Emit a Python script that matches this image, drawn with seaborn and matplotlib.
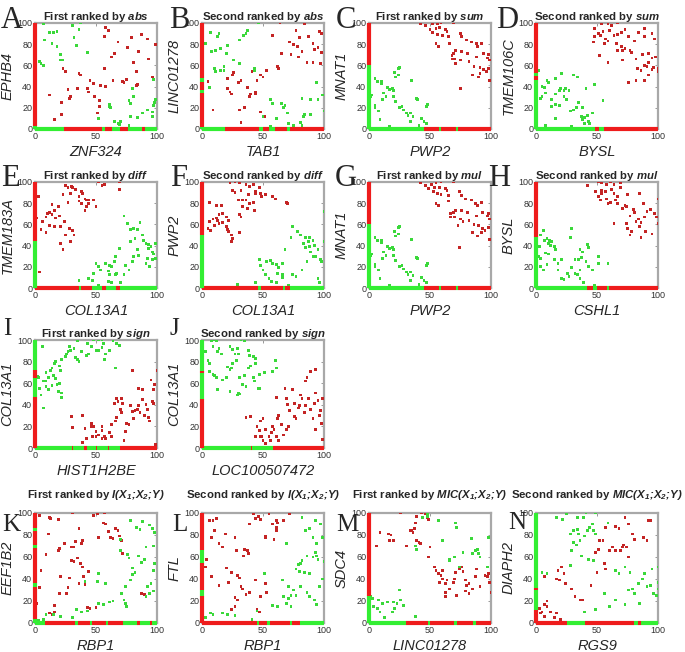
import matplotlib
matplotlib.use('Agg')
import matplotlib.pyplot as plt
import seaborn as sns
import pandas as pd

#%% data (expression ranks, 0-100)
# points off the axes: (x, y)
A_red = [(58,96),(60,93),(57,87),(87,89),(79,86),(92,85),(99,80),(68,82),(76,77),(85,73),(65,71),(63,68),
         (93,66),(81,63),(57,57),(23,57),(25,54),(36,52),(37,51),(83,54),(72,45),(73,44),(64,46),(83,41),
         (84,42),(45,46),(48,43),(54,41),(58,40),(43,38),(44,35),(96,49),(12,32),(27,37),(29,31),(28,29),
         (35,38),(22,25),(49,31),(53,21),(53,27),(51,15),(22,14),(16,9),(75,47)]
A_green = [(7,99),(37,100),(31,98),(36,94),(12,91),(15,91),(18,92),(8,84),(14,81),(18,78),(32,86),(34,79),
           (43,72),(21,70),(21,65),(23,65),(5,62),(4,64),(7,60),(97,47),(80,38),(81,31),(77,27),(78,24),
           (99,28),(98,25),(97,22),(96,16),(96,12),(92,18),(88,15),(84,11),(61,23),(61,21),(62,20),(52,10),
           (78,12),(65,7),(68,5),(70,7),(69,4),(77,3),(87,1),(88,1)]
A_xrun = [(0,24,'g'),(24,55,'r'),(55,57,'g'),(57,63,'r'),(63,70,'g'),(70,76,'r'),(76,88,'g'),(88,90,'r'),(90,100,'g')]
A_yrun = [(0,3,'g'),(3,100,'r')]

B_red = [(64,100),(84,99),(77,93),(98,90),(96,92),(58,88),(87,87),(72,82),(80,86),(75,80),(78,78),(91,81),
         (95,77),(92,75),(98,72),(82,73),(79,68),(73,70),(65,71),(86,63),(91,63),(97,62),(62,59),(63,57),
         (53,55),(41,54),(26,53),(25,51),(21,48),(32,46),(30,44),(48,51),(50,49),(45,46),(37,39),(40,33),
         (39,31),(44,35),(21,38),(23,35),(24,33),(44,33),(35,20),(31,18),(9,18),(48,16),(51,12),(32,6),(5,45)]
B_green = [(7,91),(3,81),(14,90),(13,87),(31,84),(37,93),(36,90),(34,88),(46,100),(8,73),(11,74),(15,76),
           (20,71),(21,79),(26,65),(31,62),(18,59),(15,55),(10,57),(11,54),(18,55),(6,39),(43,57),(43,55),
           (56,28),(58,24),(65,24),(68,22),(67,20),(70,15),(50,12),(61,10),(71,5),(75,3),(81,6),(83,12),
           (84,14),(89,14),(82,29),(89,28),(95,28),(94,44),(99,32),(100,17),(56,2),(82,3),(89,1)]
B_xrun = [(0,19,'g'),(19,47,'r'),(47,50,'g'),(50,55,'r'),(55,60,'g'),(60,70,'r'),(70,72,'g'),(72,100,'r')]
B_yrun = [(0,2,'g'),(2,34,'r'),(34,37,'g'),(37,44,'r'),(44,48,'g'),(48,100,'r')]

C_red = [(42,99),(46,98),(52,99),(56,99),(59,100),(69,100),(50,94),(55,95),(58,96),(63,94),(64,92),(52,91),
         (56,89),(60,88),(65,87),(55,81),(57,78),(66,81),(75,90),(76,87),(80,84),(84,82),(88,81),(89,78),
         (92,81),(71,74),(76,73),(81,71),(69,71),(68,69),(68,66),(70,66),(75,65),(82,64),(88,68),(94,71),
         (98,70),(97,67),(99,65),(71,62),(86,59),(91,58),(94,56),(96,54),(91,52),(98,57),(90,49),(99,46),
         (75,38),(85,51)]
C_green = [(5,48),(7,45),(10,43),(10,45),(15,39),(17,37),(19,38),(20,36),(24,57),(25,58),(24,51),(22,49),
           (21,53),(12,34),(14,31),(11,28),(5,22),(5,20),(8,17),(9,9),(1,31),(2,32),(20,31),(22,26),(25,20),
           (27,21),(28,18),(31,15),(32,13),(34,15),(36,12),(34,7),(39,29),(40,28),(35,46),(47,21),(48,23),
           (43,10),(45,7),(47,5),(41,3),(17,2)]
C_xrun = [(0,45,'g'),(45,57,'r'),(57,59,'g'),(59,71,'r'),(71,73,'g'),(73,100,'r')]
C_yrun = [(0,60,'g'),(60,100,'r')]

D_red = [(54,99),(59,99),(62,98),(67,100),(73,94),(48,95),(51,90),(55,92),(60,93),(48,87),(53,88),(57,85),
         (59,83),(64,88),(67,89),(70,91),(76,87),(47,82),(56,81),(66,81),(70,78),(71,74),(73,76),(77,74),
         (81,83),(84,91),(89,95),(89,87),(95,90),(97,85),(78,72),(82,66),(87,70),(92,71),(95,67),(92,63),
         (98,68),(52,69),(59,63),(67,74),(71,65),(83,57),(86,55),(89,60),(91,59),(96,58),(100,57),(100,54),
         (92,51),(95,56),(82,46),(89,46),(76,44)]
D_green = [(2,55),(9,46),(10,44),(5,40),(7,39),(5,31),(4,29),(8,34),(16,48),(21,52),(31,51),(34,49),(20,38),
           (19,36),(23,36),(24,38),(27,36),(16,33),(23,31),(25,28),(13,28),(13,21),(16,23),(19,22),(41,38),
           (48,42),(35,25),(33,20),(31,18),(28,17),(38,20),(37,12),(40,11),(42,13),(38,9),(43,7),(46,15),
           (16,10),(8,3),(29,2),(40,5),(44,5),(55,27)]
D_xrun = [(0,48,'g'),(48,52,'r'),(52,56,'g'),(56,100,'r')]
D_yrun = [(0,46,'g'),(46,50,'r'),(50,53,'g'),(53,100,'r')]

E_red = [(3,86),(52,100),(55,97),(57,98),(69,100),(69,93),(25,97),(27,95),(30,96),(31,95),(33,93),(23,88),
         (29,89),(38,91),(39,89),(36,86),(36,82),(38,80),(41,84),(42,83),(44,83),(44,80),(42,77),(41,73),
         (48,83),(50,77),(27,81),(14,79),(16,73),(12,71),(10,70),(9,67),(6,63),(14,69),(17,66),(20,68),
         (19,77),(24,63),(21,58),(12,59),(16,58),(5,55),(9,52),(28,56),(31,54),(32,50),(25,50),(21,42),
         (23,36),(29,44),(4,15),(1,66)]
E_green = [(73,68),(76,61),(78,55),(81,56),(84,55),(82,47),(78,44),(86,62),(88,50),(89,45),(91,42),(93,41),
           (93,37),(95,39),(96,34),(97,32),(99,28),(96,27),(99,42),(92,28),(91,23),(94,20),(85,31),(84,36),
           (81,30),(80,25),(77,17),(74,21),(73,13),(69,37),(66,30),(65,25),(58,23),(61,21),(63,20),(60,16),
           (50,23),(52,20),(54,17),(61,13),(66,13),(67,14),(48,14),(44,9),(47,7),(36,7),(60,6),(63,5),(70,5),
           (52,2)]
E_xrun = [(0,36,'r'),(36,38,'g'),(38,47,'r'),(47,55,'g'),(55,58,'r'),(58,66,'g'),(66,70,'r'),(70,100,'g')]
E_yrun = [(0,44,'g'),(44,100,'r')]

F_red = [(23,99),(27,100),(31,99),(36,98),(39,96),(42,98),(47,95),(25,92),(27,90),(32,92),(30,83),(33,83),
         (38,88),(44,91),(44,89),(48,89),(49,86),(52,88),(58,86),(60,84),(36,83),(39,80),(42,81),(33,77),
         (37,75),(43,73),(31,69),(32,67),(69,81),(70,80),(6,81),(12,78),(16,78),(14,69),(17,70),(9,65),
         (12,66),(13,64),(6,63),(5,56),(7,54),(10,59),(14,61),(17,62),(20,67),(22,64),(20,58),(22,53),
         (24,50),(25,47),(24,44),(21,55),(31,52)]
F_green = [(100,72),(74,58),(73,48),(68,36),(78,53),(81,50),(85,48),(88,48),(91,45),(87,44),(83,42),(85,38),
           (88,39),(92,40),(95,36),(89,34),(91,30),(93,30),(97,27),(98,25),(86,25),(82,17),(74,13),(77,11),
           (95,9),(96,5),(47,27),(48,21),(50,17),(53,25),(56,26),(58,23),(61,22),(63,19),(66,23),(62,14),
           (66,13),(66,10),(52,13),(55,9),(57,6),(61,5),(44,5),(29,3),(71,2),(100,44)]
F_xrun = [(0,46,'r'),(46,48,'g'),(48,66,'r'),(66,68,'g'),(68,72,'r'),(72,100,'g')]
F_yrun = [(0,50,'g'),(50,100,'r')]

G_red = [(42,99),(46,97),(51,98),(55,99),(59,100),(69,100),(49,94),(54,95),(58,95),(63,94),(64,92),(53,91),
         (56,89),(59,88),(65,87),(55,80),(57,78),(65,82),(74,91),(76,87),(79,84),(84,83),(87,80),(89,78),
         (92,81),(71,73),(76,73),(81,71),(69,71),(67,70),(67,67),(70,67),(75,65),(82,64),(88,68),(93,71),
         (98,70),(97,68),(99,65),(86,60),(90,59),(93,56),(95,54),(92,52),(98,57),(89,49),(99,46),(74,38),
         (85,52),(73,59),(77,63)]
G_green = [(5,48),(7,45),(10,43),(10,45),(15,39),(17,37),(19,38),(20,36),(24,57),(25,58),(24,51),(22,49),
           (21,53),(12,34),(14,31),(11,28),(5,22),(5,20),(8,17),(9,9),(1,31),(2,32),(20,31),(22,26),(25,20),
           (27,21),(28,18),(31,15),(32,13),(34,15),(36,12),(34,7),(39,29),(40,28),(35,46),(47,21),(48,23),
           (43,10),(45,7),(47,5),(41,3),(17,2)]
G_xrun = C_xrun
G_yrun = C_yrun

H_red = [(42,97),(51,100),(54,99),(58,98),(61,100),(64,98),(69,99),(49,91),(54,89),(54,92),(57,91),(51,86),
         (53,83),(58,84),(62,93),(64,89),(67,86),(69,95),(61,81),(65,83),(67,80),(59,80),(71,75),(73,78),
         (74,77),(75,88),(80,74),(81,71),(77,68),(85,89),(88,80),(82,63),(84,65),(86,62),(89,67),(91,72),
         (94,74),(97,70),(99,67),(100,84),(100,61),(75,56),(77,50),(78,53),(85,58),(86,48),(90,53),(95,51),
         (74,61),(64,61)]
H_green = [(6,54),(4,50),(3,39),(2,30),(4,28),(7,45),(9,47),(11,45),(13,44),(10,42),(12,40),(15,39),(16,36),
           (8,33),(10,32),(6,17),(4,20),(9,22),(15,27),(18,23),(21,27),(21,9),(23,8),(29,56),(28,48),(36,36),
           (38,34),(42,41),(43,38),(32,27),(35,27),(37,29),(41,25),(29,19),(32,14),(34,13),(36,17),(43,20),
           (46,17),(51,30),(51,23),(36,9),(39,5),(48,2),(59,23),(18,17),(26,14),(27,11)]
H_xrun = [(0,42,'g'),(42,47,'r'),(47,50,'g'),(50,58,'r'),(58,60,'g'),(60,100,'r')]
H_yrun = [(0,48,'g'),(48,100,'r')]

I_green = [(6,94),(2,66),(3,65),(4,55),(5,49),(7,37),(7,62),(9,62),(11,65),(9,70),(13,72),(11,54),(9,57),
           (14,74),(16,78),(17,80),(15,67),(17,64),(14,58),(18,59),(20,76),(21,72),(20,60),(22,51),(22,47),
           (19,52),(25,85),(26,87),(27,89),(28,94),(29,90),(32,92),(33,84),(35,82),(36,80),(35,100),(35,99),
           (43,97),(46,94),(42,86),(44,87),(38,89),(48,100),(50,90),(52,100),(55,100),(56,97),(52,90),(55,93),
           (58,87),(61,90),(64,99),(67,97),(69,95),(66,74),(57,82),(22,82)]
I_red = [(30,29),(31,19),(39,30),(41,18),(42,9),(39,5),(46,23),(46,20),(48,20),(50,15),(47,11),(50,11),
         (52,12),(55,9),(57,11),(58,9),(55,20),(55,16),(61,14),(63,11),(63,22),(66,25),(67,28),(65,41),
         (68,43),(70,36),(71,46),(72,41),(71,33),(75,23),(77,22),(74,15),(73,7),(78,39),(80,34),(81,27),
         (80,72),(82,35),(84,36),(85,39),(86,33),(88,54),(88,45),(91,40),(90,30),(92,36),(93,28),(95,63),
         (96,43),(97,41),(94,25),(97,54),(98,59),(100,72),(99,3),(85,55),(67,46)]
I_xrun = [(0,30,'g'),(30,31,'r'),(31,40,'g'),(40,43,'r'),(43,50,'g'),(50,51,'r'),(51,60,'g'),(60,61,'r'),
          (61,70,'g'),(70,100,'r')]
I_yrun = [(0,47,'r'),(47,65,'g'),(65,72,'r'),(72,100,'g')]

J_green = [(3,89),(5,81),(6,78),(6,71),(9,94),(8,99),(10,100),(12,99),(13,89),(14,92),(16,87),(10,67),(12,65),
           (9,68),(13,54),(17,63),(20,65),(21,75),(23,73),(24,74),(25,78),(23,94),(25,91),(29,92),(30,87),
           (28,81),(32,100),(35,99),(23,52),(33,59),(36,57),(27,87),(31,65),(38,90),(39,86),(42,85),(44,83),
           (38,74),(40,76),(44,78),(35,67),(42,65),(43,62),(29,49),(30,51),(31,50),(46,55),(47,55),(47,68),
           (51,70),(58,71),(61,74),(60,81)]
J_red = [(36,28),(40,29),(45,20),(47,16),(48,25),(50,27),(48,11),(50,7),(49,11),(44,11),(52,17),(52,4),
         (55,11),(56,7),(57,14),(59,17),(58,20),(62,27),(63,30),(65,22),(61,11),(63,7),(61,47),(69,46),
         (70,40),(72,35),(68,55),(74,54),(76,41),(76,29),(77,27),(79,37),(80,39),(81,49),(82,46),(84,33),
         (85,39),(87,46),(89,36),(91,27),(92,41),(93,51),(95,44),(96,30),(97,35),(89,71),(93,73),(86,65),
         (85,62),(99,46),(98,23),(99,8),(93,17),(71,20),(69,17),(67,12)]
J_xrun = [(0,40,'g'),(40,41,'r'),(41,58,'g'),(58,100,'r')]
J_yrun = [(0,45,'r'),(45,69,'g'),(69,71,'r'),(71,100,'g')]

K_red = [(4,98),(12,96),(13,95),(19,94),(31,100),(48,98),(51,99),(57,100),(56,91),(58,90),(52,78),(36,86),
         (39,75),(38,72),(33,74),(32,69),(30,69),(24,72),(20,68),(19,66),(11,81),(9,62),(5,48),(4,32),(1,18),
         (30,57),(32,56),(35,59),(37,54),(39,51),(36,36),(40,42),(41,35),(28,41),(27,32),(26,27),(21,42),
         (20,27),(16,16),(12,9),(14,8),(16,10),(60,83),(62,78),(64,77),(66,86),(68,84),(69,79),(71,75),
         (72,63),(43,14),(45,13),(50,14),(87,27),(90,26),(44,47)]
K_green = [(78,93),(83,87),(86,85),(88,92),(94,89),(96,86),(98,82),(97,70),(70,76),(70,66),(76,62),(77,59),
           (85,61),(87,55),(90,58),(91,69),(80,50),(82,46),(80,44),(78,39),(74,33),(71,27),(73,21),(74,18),
           (75,15),(58,36),(51,38),(52,45),(64,20),(61,19),(56,17),(52,18),(43,11),(41,38),(95,36),(92,33),
           (94,27),(97,29),(97,48),(98,54),(91,24),(31,5),(21,6),(15,8),(9,8),(7,3),(3,2),(38,10),(34,12)]
K_xrun = [(0,8,'g'),(8,33,'r'),(33,35,'g'),(35,45,'r'),(45,47,'g'),(47,58,'r'),(58,60,'g'),(60,72,'r'),
          (72,84,'g'),(84,86,'r'),(86,94,'g'),(94,96,'r'),(96,100,'g')]
K_yrun = [(0,4,'g'),(4,33,'r'),(33,36,'g'),(36,68,'r'),(68,71,'g'),(71,84,'r'),(84,86,'g'),(86,100,'r')]

L_red = [(6,93),(9,93),(12,95),(42,99),(46,97),(48,94),(44,95),(55,99),(61,93),(62,91),(58,90),(61,87),
         (61,84),(52,79),(52,78),(67,93),(72,99),(8,78),(10,84),(19,81),(14,72),(17,69),(27,78),(28,66),
         (35,67),(37,66),(38,63),(34,61),(39,90),(4,58),(3,51),(8,42),(20,50),(24,46),(22,37),(14,34),(29,43),
         (31,41),(32,33),(33,31),(27,23),(36,26),(39,28),(29,21),(27,15),(44,39),(48,24),(52,36),(53,28),
         (45,12),(47,10),(24,12),(59,76)]
L_green = [(82,96),(85,84),(88,86),(93,93),(97,90),(99,78),(91,78),(94,72),(93,64),(91,60),(94,61),(95,58),
           (100,56),(86,61),(82,57),(81,54),(79,53),(77,49),(80,47),(84,46),(88,45),(69,72),(71,33),(66,39),
           (75,30),(67,24),(71,22),(73,25),(69,18),(73,15),(77,25),(81,33),(86,28),(88,24),(92,21),(94,17),
           (96,33),(99,40),(58,16),(62,15),(51,45),(45,11),(41,3),(9,8),(7,9),(3,5),(17,9),(21,8),(27,7)]
L_xrun = [(0,45,'r'),(45,47,'g'),(47,53,'r'),(53,56,'g'),(56,72,'r'),(72,74,'g'),(74,80,'r'),(80,100,'g')]
L_yrun = [(0,25,'r'),(25,30,'g'),(30,55,'r'),(55,66,'g'),(66,100,'r')]

M_red = [(26,100),(39,97),(43,100),(46,99),(48,96),(49,94),(38,91),(34,84),(35,84),(37,86),(36,82),(31,70),
         (39,75),(41,73),(42,72),(16,81),(18,80),(20,75),(20,75),(17,75),(9,82),(6,70),(49,60),(50,69),
         (55,48),(57,45),(54,51),(59,43),(60,48),(58,37),(60,40),(63,36),(63,28),(63,24),(66,31),(64,39),
         (69,37),(70,40),(71,46),(74,49),(76,51),(77,47),(79,39),(80,34),(82,36),(79,29),(82,27),(85,31),
         (87,42),(88,49),(91,33),(95,43),(97,42),(98,45),(100,28),(99,37),(72,25)]
M_green = [(48,99),(48,97),(57,93),(44,96),(71,91),(72,87),(60,75),(39,67),(38,70),(84,77),(87,66),(89,67),
           (85,63),(77,64),(66,57),(66,58),(70,60),(74,51),(98,78),(97,51),(91,60),(90,63),(1,24),(3,22),
           (4,15),(8,21),(7,13),(9,10),(11,18),(15,19),(20,19),(21,13),(23,18),(26,21),(25,30),(28,16),
           (19,10),(13,5),(38,6)]
M_xrun = [(0,30,'g'),(30,48,'r'),(48,50,'g'),(50,70,'r'),(70,72,'g'),(72,85,'r'),(85,88,'g'),(88,100,'r')]
M_yrun = [(0,25,'g'),(25,100,'r')]

N_red = [(3,13),(4,9),(5,10),(7,6),(9,15),(12,10),(15,5),(17,9),(20,3),(9,20),(7,17),(7,42),(17,40),(19,39),
         (18,48),(21,51),(23,45),(24,36),(29,31),(32,24),(36,21),(38,21),(45,34),(49,64),(51,67),(52,75),
         (55,75),(57,87),(65,88),(68,86),(60,66),(63,69),(65,66),(69,66),(71,69),(72,71),(74,69),(76,60),
         (56,54),(57,49),(50,46),(73,96),(79,81),(81,76),(88,78),(91,75),(92,93),(94,93),(76,90)]
N_green = [(17,96),(22,94),(25,99),(28,81),(31,84),(34,85),(35,81),(36,75),(40,79),(42,84),(44,87),(46,90),
           (41,100),(47,84),(49,81),(31,73),(33,71),(29,66),(37,61),(43,58),(47,57),(34,96),(39,96),(49,100),
           (59,91),(5,46),(9,45),(28,52),(40,10),(49,12),(56,27),(60,15),(65,21),(73,17),(76,30),(79,31),
           (81,27),(85,18),(84,36),(87,40),(91,33),(94,34),(95,49),(96,27),(99,25),(100,31),(100,37),(100,51),
           (89,45),(65,48),(68,45),(73,51),(77,46)]
N_xrun = [(0,25,'r'),(25,40,'g'),(40,80,'r'),(80,84,'g'),(84,86,'r'),(86,100,'g')]
N_yrun = [(0,12,'r'),(12,30,'g'),(30,32,'r'),(32,100,'g')]

# letter, rank, measure, x gene, y gene
panels = [
    ('A', 'First', 'abs', 'ZNF324', 'EPHB4', A_red, A_green, A_xrun, A_yrun),
    ('B', 'Second', 'abs', 'TAB1', 'LINC01278', B_red, B_green, B_xrun, B_yrun),
    ('C', 'First', 'sum', 'PWP2', 'MNAT1', C_red, C_green, C_xrun, C_yrun),
    ('D', 'Second', 'sum', 'BYSL', 'TMEM106C', D_red, D_green, D_xrun, D_yrun),
    ('E', 'First', 'diff', 'COL13A1', 'TMEM183A', E_red, E_green, E_xrun, E_yrun),
    ('F', 'Second', 'diff', 'COL13A1', 'PWP2', F_red, F_green, F_xrun, F_yrun),
    ('G', 'First', 'mul', 'PWP2', 'MNAT1', G_red, G_green, G_xrun, G_yrun),
    ('H', 'Second', 'mul', 'CSHL1', 'BYSL', H_red, H_green, H_xrun, H_yrun),
    ('I', 'First', 'sign', 'HIST1H2BE', 'COL13A1', I_red, I_green, I_xrun, I_yrun),
    ('J', 'Second', 'sign', 'LOC100507472', 'COL13A1', J_red, J_green, J_xrun, J_yrun),
    ('K', 'First', r'I(X_1;\!X_2;\!Y)', 'RBP1', 'EEF1B2', K_red, K_green, K_xrun, K_yrun),
    ('L', 'Second', r'I(X_1;\!X_2;\!Y)', 'RBP1', 'FTL', L_red, L_green, L_xrun, L_yrun),
    ('M', 'First', r'MIC(X_1;\!X_2;\!Y)', 'LINC01278', 'SDC4', M_red, M_green, M_xrun, M_yrun),
    ('N', 'Second', r'MIC(X_1;\!X_2;\!Y)', 'RGS9', 'DIAPH2', N_red, N_green, N_xrun, N_yrun),
]

#%% style
sns.set_style('white')
plt.rcParams['font.family'] = ['Liberation Sans', 'DejaVu Sans']
plt.rcParams['mathtext.fontset'] = 'custom'
plt.rcParams['mathtext.bfit'] = 'Liberation Sans:bold:italic'
plt.rcParams['mathtext.it'] = 'Liberation Sans:italic'
plt.rcParams['mathtext.rm'] = 'Liberation Sans'

pal = {'r': '#c42424', 'g': '#3ad83a'}
run_pal = {'r': '#ee1c1c', 'g': '#33ee33'}

W, H = 685, 652
fig = plt.figure(figsize=(W / 100, H / 100), dpi=100)

col_left = [35, 202, 369, 536]
row_top = [23, 182, 340, 513]
row_h = [106, 106, 108, 110]
slots = [(0, 0), (0, 1), (0, 2), (0, 3), (1, 0), (1, 1), (1, 2), (1, 3),
         (2, 0), (2, 1), (3, 0), (3, 1), (3, 2), (3, 3)]
# letter position (px from top-left) and size
letter_xy = {'A': (1, 6, 22), 'B': (169, 6, 22), 'C': (336, 6, 22), 'D': (496, 6, 22),
             'E': (1, 164, 22), 'F': (170, 164, 22), 'G': (335, 164, 22), 'H': (488, 164, 22),
             'I': (3, 318, 18), 'J': (170, 318, 18), 'K': (2, 514, 18), 'L': (172, 514, 18),
             'M': (336, 514, 18), 'N': (508, 512, 18)}

#%% draw panels
for (letter, rank, meas, xlab, ylab, red, green, xrun, yrun), (r, c) in zip(panels, slots):
    top, h = row_top[r], row_h[r]
    ax = fig.add_axes([col_left[c] / W, 1 - (top + h) / H, 122 / W, h / H])

    df = pd.DataFrame(red + green, columns=['x', 'y'])
    df['cls'] = ['r'] * len(red) + ['g'] * len(green)
    sns.scatterplot(data=df, x='x', y='y', hue='cls', palette=pal, s=4, marker='s',
                    linewidth=0, legend=False, ax=ax, zorder=4)

    # zero-valued samples sit on the axes
    for s, e, k in xrun:
        ax.hlines(0, s, e, colors=run_pal[k], lw=3, clip_on=False, zorder=5)
    for s, e, k in yrun:
        ax.vlines(0, s, e, colors=run_pal[k], lw=3, clip_on=False, zorder=5)

    ax.set_xlim(0, 100)
    ax.set_ylim(0, 100)
    ax.set_xticks([0, 50, 100])
    ax.set_yticks([0, 20, 40, 60, 80, 100])
    ax.tick_params(direction='in', length=2.5, width=0.6, color='#888888', labelsize=6.5,
                   pad=2, labelcolor='#333333', top=True, right=True)
    for sp in ax.spines.values():
        sp.set_color('#a8a8a8')
        sp.set_linewidth(1.6)
    ax.set_xlabel(xlab, fontsize=10.5, style='italic', labelpad=3)
    ax.set_ylabel(ylab, fontsize=10.5, style='italic', labelpad=2)
    pad = 11 if r == 3 else 2
    ax.set_title(rank + ' ranked by ' + r'$\mathbfit{' + meas + '}$', fontsize=8.2,
                 fontweight='bold', pad=pad)

    lx, ly, fs = letter_xy[letter]
    fig.text(lx / W, 1 - ly / H, letter, family='Liberation Serif', fontsize=fs,
             va='top', ha='left')

fig.savefig('out.png', dpi=100)
